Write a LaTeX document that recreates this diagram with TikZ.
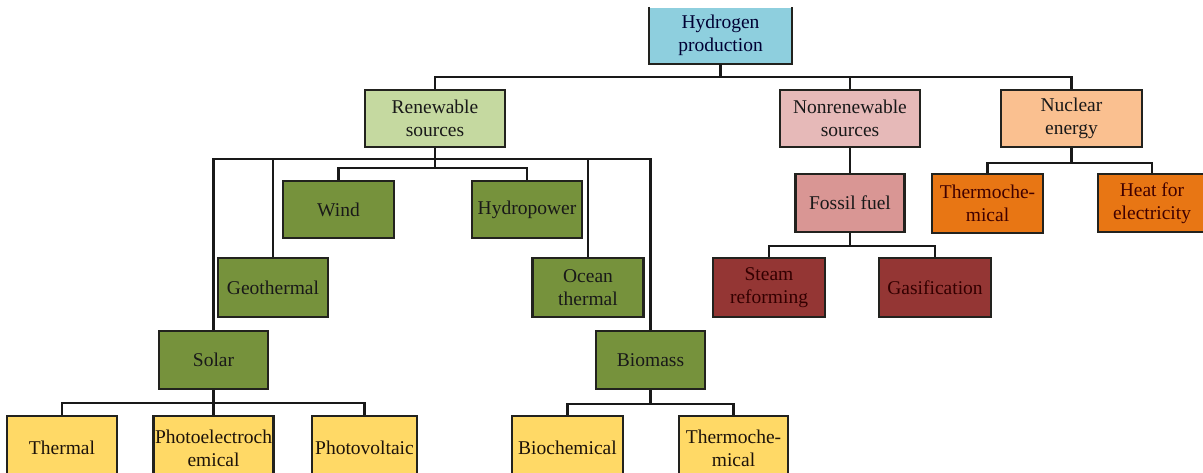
\documentclass[tikz,border=0pt]{standalone}
\usepackage{fontspec}
\setmainfont{Liberation Serif}
\definecolor{hpblue}{RGB}{142,207,222}
\definecolor{renlight}{RGB}{197,217,160}
\definecolor{olive}{RGB}{118,146,60}
\definecolor{yel}{RGB}{255,217,102}
\definecolor{pinkl}{RGB}{230,185,184}
\definecolor{pinkd}{RGB}{217,150,148}
\definecolor{darkred}{RGB}{148,54,52}
\definecolor{peach}{RGB}{250,192,144}
\definecolor{orng}{RGB}{232,118,20}
\definecolor{bord}{RGB}{34,34,30}
\begin{document}
\begin{tikzpicture}[x=1pt,y=-1pt,
  box/.style={draw=bord,line width=2.4pt,rectangle,inner sep=0pt,align=center,
    font=\fontsize{19.5}{23}\selectfont,text=black!90},
  conn/.style={draw=black!90,line width=2.2pt}]
\useasboundingbox (0,0) rectangle (1203,472);
\clip (0,0) rectangle (1203,472);
\fill[white] (0,0) rectangle (1203,472);
% level 0
\node[box,draw=none,fill=hpblue,minimum width=141pt,minimum height=55pt,text=black!80!blue] (hp) at (720.5,35.5) {Hydrogen\\production};
\draw[draw=bord,line width=2.4pt] (hp.north west) -- (hp.south west) -- (hp.south east) -- (hp.north east);
% level 1
\node[box,fill=renlight,minimum width=140pt,minimum height=57pt] (ren) at (435,118.5) {Renewable\\sources};
\node[box,fill=pinkl,minimum width=140pt,minimum height=57pt] (non) at (850,118.5) {Nonrenewable\\sources};
\node[box,fill=peach,minimum width=141pt,minimum height=57pt] (nuc) at (1071.5,118.5) {Nuclear\\energy};
% renewable children
\node[box,fill=olive,minimum width=111pt,minimum height=57pt] (wind) at (338.5,209.5) {Wind};
\node[box,fill=olive,minimum width=110pt,minimum height=57pt] (hydro) at (527,209.5) {Hydropower};
\node[box,fill=olive,minimum width=110pt,minimum height=59pt] (geo) at (273,287.5) {Geothermal};
\node[box,fill=olive,minimum width=111pt,minimum height=59pt] (ocean) at (588,287.5) {Ocean\\thermal};
\node[box,fill=olive,minimum width=109pt,minimum height=58pt] (solar) at (213.5,360) {Solar};
\node[box,fill=olive,minimum width=109pt,minimum height=58pt] (bio) at (650.5,360) {Biomass};
% bottom row
\node[box,fill=yel,minimum width=110pt,minimum height=64pt,text=black!85!brown] (thermal) at (62,448) {Thermal\\[-23pt]\phantom{x}};
\node[box,fill=yel,minimum width=120pt,minimum height=64pt,text=black!85!brown] (pec) at (213.5,448) {Photoelectroch\\emical};
\node[box,fill=yel,minimum width=105pt,minimum height=64pt,text=black!85!brown] (pv) at (364.5,448) {Photovoltaic\\[-23pt]\phantom{x}};
\node[box,fill=yel,minimum width=111pt,minimum height=64pt,text=black!85!brown] (biochem) at (567.5,448) {Biochemical\\[-23pt]\phantom{x}};
\node[box,fill=yel,minimum width=109pt,minimum height=64pt,text=black!85!brown] (thermo2) at (733.5,448) {Thermoche-\\mical};
% nonrenewable
\node[box,fill=pinkd,minimum width=109pt,minimum height=58pt] (fossil) at (850,203) {Fossil fuel};
\node[box,fill=darkred,minimum width=112pt,minimum height=59pt,text=black!80!red] (steam) at (769,287.5) {Steam\\reforming};
\node[box,fill=darkred,minimum width=112pt,minimum height=59pt,text=black!80!red] (gas) at (935,287.5) {Gasification};
% nuclear
\node[box,fill=orng,minimum width=111pt,minimum height=59pt,text=black!75!red] (thermo1) at (987.5,203.5) {Thermoche-\\mical};
\node[box,fill=orng,minimum width=108pt,minimum height=58pt,text=black!75!red] (heat) at (1152,203) {Heat for\\electricity};
% connectors
\coordinate (b0) at (720.5,77);
\draw[conn] (hp.south) -- (b0);
\draw[conn] (ren.north) |- (b0) -| (nuc.north);
\draw[conn] (non.north) -- (non.north |- b0);
\coordinate (r1) at (435,159);
\coordinate (r2) at (435,168);
\draw[conn] (ren.south) -- (r2);
\draw[conn] (solar.north) |- (r1) -| (bio.north);
\draw[conn] (geo.north) -- (geo.north |- r1);
\draw[conn] (ocean.north) -- (ocean.north |- r1);
\draw[conn] (wind.north) |- (r2) -| (hydro.north);
\coordinate (s1) at (213.5,403);
\draw[conn] (solar.south) -- (pec.north);
\draw[conn] (thermal.north) |- (s1) -| (pv.north);
\coordinate (m1) at (650.5,404);
\draw[conn] (bio.south) -- (m1);
\draw[conn] (biochem.north) |- (m1) -| (thermo2.north);
\draw[conn] (non.south) -- (fossil.north);
\coordinate (f1) at (850,246);
\draw[conn] (fossil.south) -- (f1);
\draw[conn] (steam.north) |- (f1) -| (gas.north);
\coordinate (n1) at (1071.5,163);
\draw[conn] (nuc.south) -- (n1);
\draw[conn] (thermo1.north) |- (n1) -| (heat.north);
\end{tikzpicture}
\end{document}
